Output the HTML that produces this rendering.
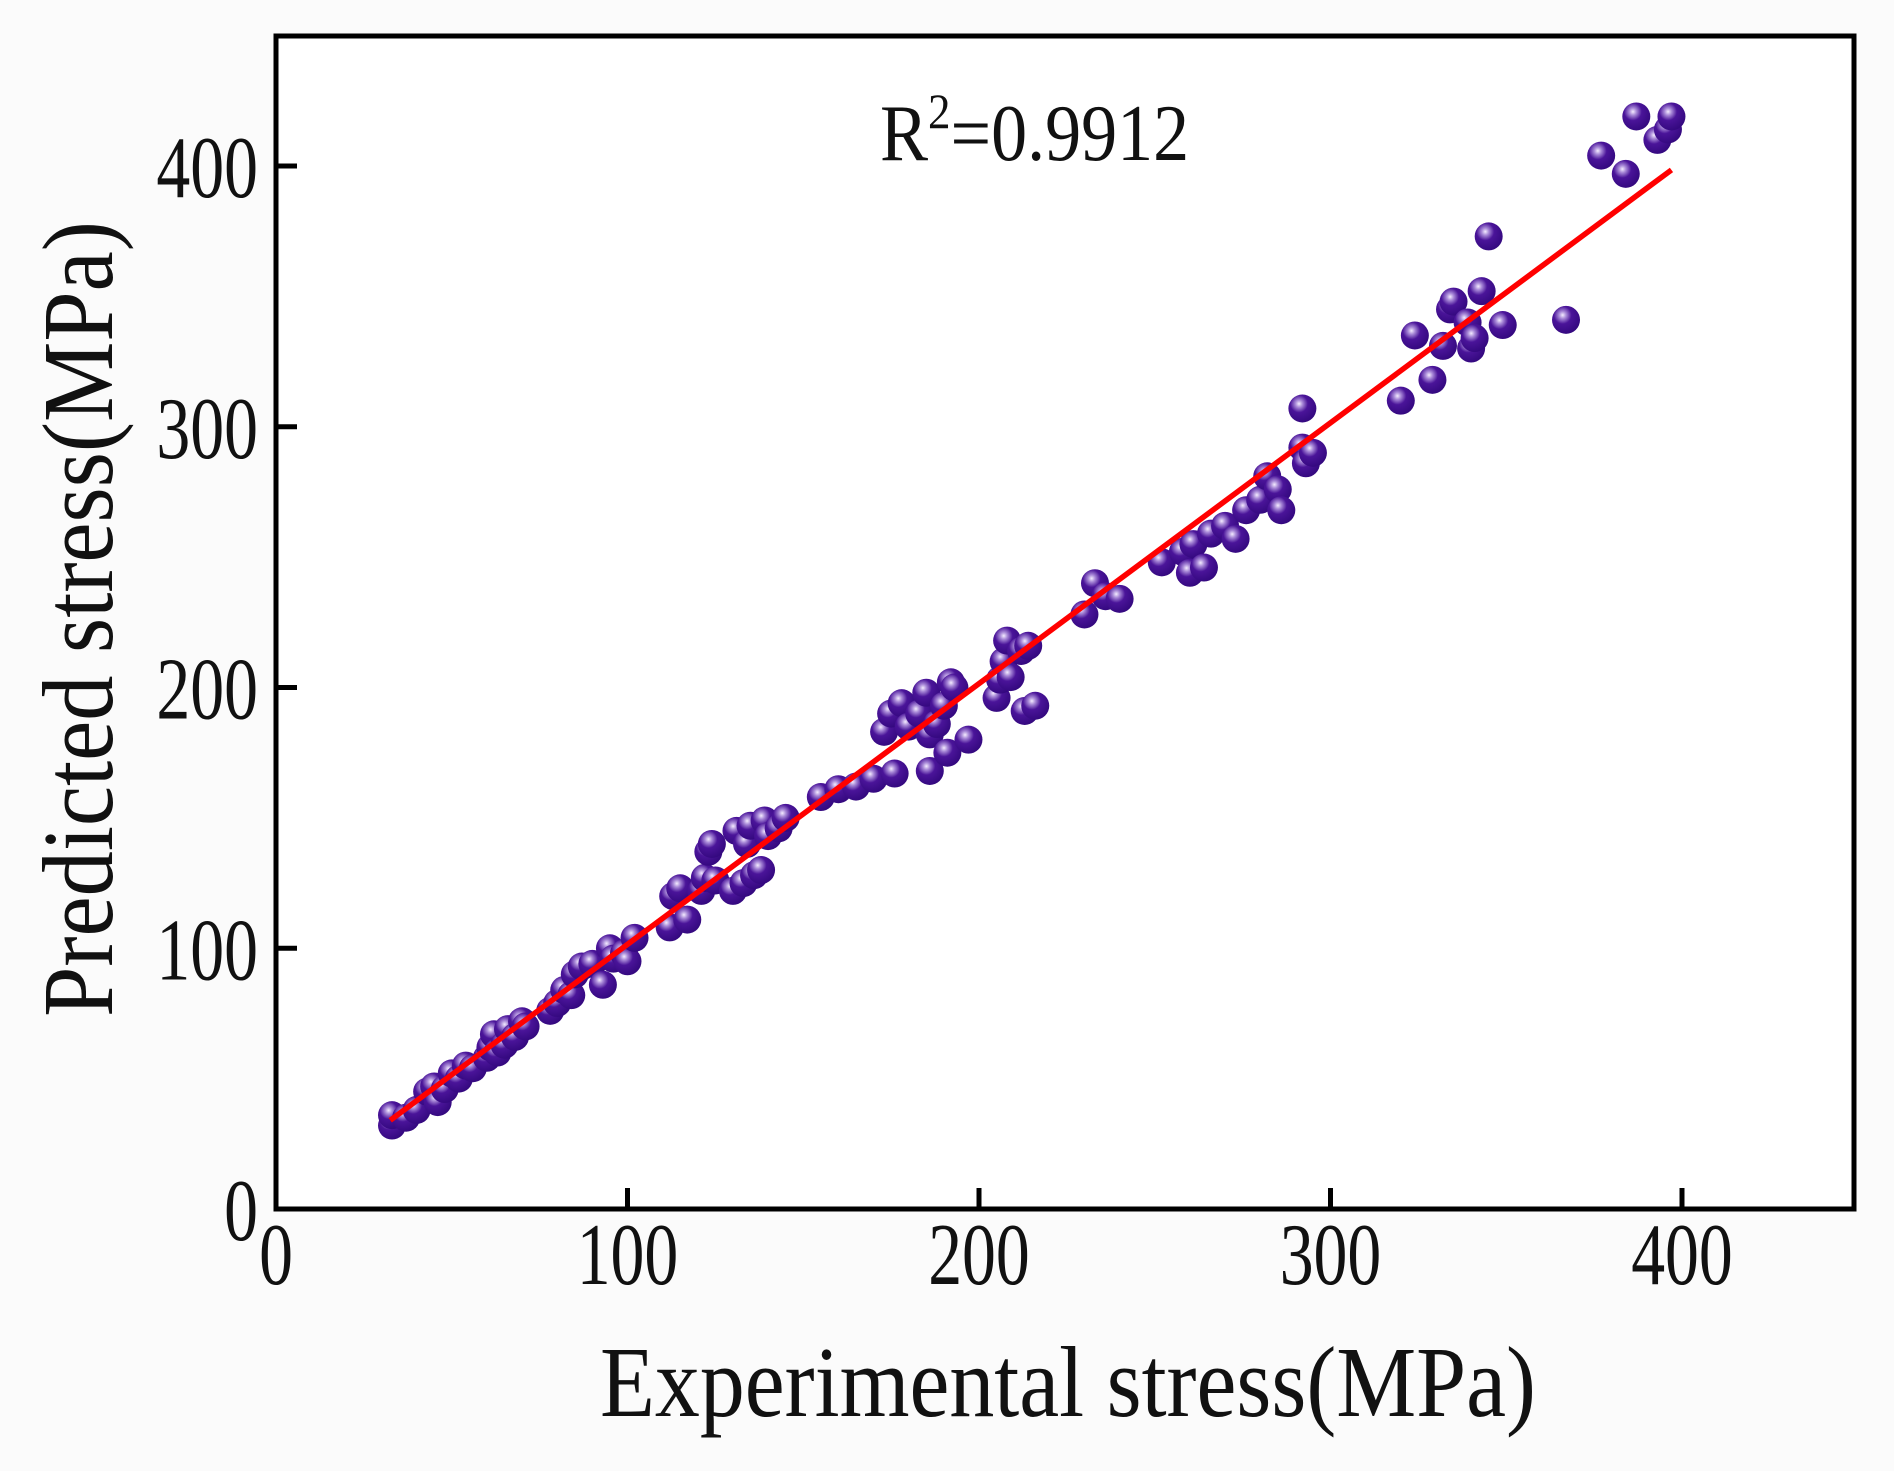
<!DOCTYPE html>
<html><head><meta charset="utf-8">
<style>
html,body{margin:0;padding:0;background:#fbfbfb;}
svg{display:block;font-family:"Liberation Serif","Times New Roman",serif;}
</style></head>
<body>
<svg id="chart" width="1894" height="1471" viewBox="0 0 1894 1471" xmlns="http://www.w3.org/2000/svg">
<defs>
<radialGradient id="ball" cx="0.38" cy="0.33" r="0.7">
<stop offset="0" stop-color="#f4ecff"/>
<stop offset="0.18" stop-color="#a98ad8"/>
<stop offset="0.45" stop-color="#4a1499"/>
<stop offset="1" stop-color="#33087e"/>
</radialGradient>
</defs>
<rect x="276" y="36" width="1578" height="1173" fill="#ffffff"/>
<g id="marks"></g>
<g id="axes"></g>
<text transform="translate(880,160) scale(0.9,1)" x="0" y="0" font-size="80" fill="#111">R<tspan dy="-32" font-size="50">2</tspan><tspan dy="32">=0.9912</tspan></text>
<text transform="translate(1068,1416) scale(0.89,1)" x="0" y="0" font-size="101" text-anchor="middle" fill="#111">Experimental stress(MPa)</text>
<text transform="translate(112,619) rotate(-90) scale(0.895,1)" x="0" y="0" font-size="101" text-anchor="middle" fill="#111">Predicted stress(MPa)</text>
</svg>
<script>
const xTicks = [0,100,200,300,400];
const yTicks = [0,100,200,300,400];
const expX = [33,33,37,40,43,45,46,48,50,52,54,56,60,61,62,63,65,66,68,70,71,78,80,82,84,85,87,90,93,95,96,99,100,102,112,113,115,117,121,122,123,124,125,130,131,133,134,135,136,138,139,140,143,145,155,160,165,170,173,175,176,178,180,183,185,186,186,188,190,191,192,193,197,205,206,207,208,209,212,214,213,216,230,233,236,240,252,258,260,261,264,266,270,273,276,280,282,285,286,292,292,293,295,320,324,329,332,334,335,339,340,341,343,345,349,367,377,384,387,393,396,397];
const predY = [32,36,35,38,45,47,41,46,52,50,55,54,58,62,67,60,63,69,66,72,70,76,79,84,82,90,93,94,86,100,96,98,95,104,108,120,123,111,122,127,137,140,126,122,145,125,140,147,128,130,149,143,146,150,158,161,162,165,183,190,167,194,185,190,198,182,168,186,193,175,202,200,180,196,203,210,218,204,214,216,191,193,228,240,235,234,248,252,244,255,246,259,262,257,268,272,281,276,268,307,292,286,290,310,335,318,331,345,348,340,330,334,352,373,339,341,404,397,419,410,414,419];
const fitX = [32.5, 397];
const fitY = [34, 398.5];

const X0=276, XS=351.5, Y0=1209, YS=260.75;
const sx = v => X0 + v*XS/100;
const sy = v => Y0 - v*YS/100;
const NS="http://www.w3.org/2000/svg";
const marks=document.getElementById('marks');
const axes=document.getElementById('axes');

for(let i=0;i<expX.length;i++){
  const c=document.createElementNS(NS,'circle');
  c.setAttribute('cx',sx(expX[i]));
  c.setAttribute('cy',sy(predY[i]));
  c.setAttribute('r',14);
  c.setAttribute('fill','url(#ball)');
  
  
  marks.appendChild(c);
}
const ln=document.createElementNS(NS,'line');
ln.setAttribute('x1',sx(fitX[0]));ln.setAttribute('y1',sy(fitY[0]));
ln.setAttribute('x2',sx(fitX[1]));ln.setAttribute('y2',sy(fitY[1]));
ln.setAttribute('stroke','#ff0000');ln.setAttribute('stroke-width','5.5');


marks.appendChild(ln);

const frame=document.createElementNS(NS,'rect');
frame.setAttribute('x',276);frame.setAttribute('y',36);
frame.setAttribute('width',1578);frame.setAttribute('height',1173);
frame.setAttribute('fill','none');frame.setAttribute('stroke','#000');frame.setAttribute('stroke-width','5');


axes.appendChild(frame);

xTicks.forEach(t=>{
  const l=document.createElementNS(NS,'line');
  l.setAttribute('x1',sx(t));l.setAttribute('x2',sx(t));
  l.setAttribute('y1',Y0);l.setAttribute('y2',Y0-21);
  l.setAttribute('stroke','#000');l.setAttribute('stroke-width','5');
  
  
  axes.appendChild(l);
  const tx=document.createElementNS(NS,'text');
  tx.setAttribute('transform','translate('+sx(t)+',1284) scale(0.77,1)');
  tx.setAttribute('x',0);tx.setAttribute('y',0);
  tx.setAttribute('font-size','88');tx.setAttribute('text-anchor','middle');tx.setAttribute('fill','#111');
  tx.textContent=t;
  
  
  axes.appendChild(tx);
});
yTicks.forEach(t=>{
  const l=document.createElementNS(NS,'line');
  l.setAttribute('x1',X0);l.setAttribute('x2',X0+21);
  l.setAttribute('y1',sy(t));l.setAttribute('y2',sy(t));
  l.setAttribute('stroke','#000');l.setAttribute('stroke-width','5');
  
  
  axes.appendChild(l);
  const tx=document.createElementNS(NS,'text');
  tx.setAttribute('transform','translate(258,'+(sy(t)+31)+') scale(0.77,1)');
  tx.setAttribute('x',0);tx.setAttribute('y',0);
  tx.setAttribute('font-size','88');tx.setAttribute('text-anchor','end');tx.setAttribute('fill','#111');
  tx.textContent=t;
  
  
  axes.appendChild(tx);
});
</script>
</body></html>
